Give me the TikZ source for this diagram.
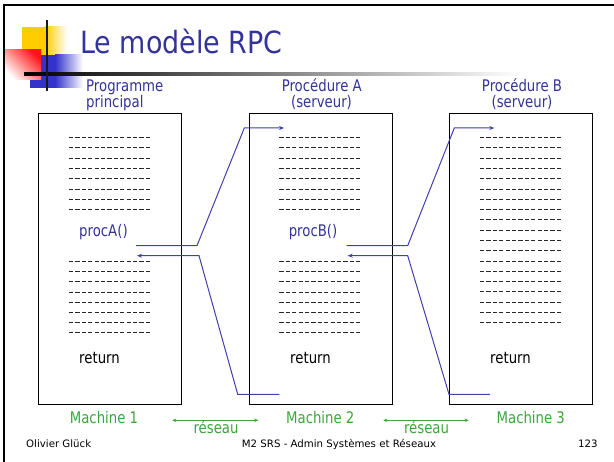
\documentclass[tikz,border=0pt]{standalone}
\usepackage{fontspec}
\setmainfont{DejaVu Sans}[FakeStretch=0.83]
\newfontfamily\titlefont{DejaVu Sans}[FakeStretch=0.88]
\newfontfamily\footfont{DejaVu Sans}
\usetikzlibrary{arrows.meta}
\definecolor{titleblue}{RGB}{51,51,153}
\definecolor{flowblue}{RGB}{64,64,176}
\definecolor{netgreen}{RGB}{60,165,60}
\definecolor{decoyellow}{RGB}{255,204,0}
\definecolor{decored}{RGB}{255,20,20}
\definecolor{decoblue}{RGB}{51,51,204}
\tikzset{
  body/.style={font=\fontsize{16}{19}\selectfont, inner sep=0pt},
  hdr/.style={body, text=titleblue},
  code/.style={body, text=black, anchor=base west},
  mach/.style={body, text=netgreen, anchor=base},
  foot/.style={font=\footfont\fontsize{10.2}{12}\selectfont, inner sep=0pt, anchor=base},
  machbox/.style={draw=black, line width=1pt, minimum width=143pt, minimum height=291.6pt, inner sep=0pt, anchor=north west},
  codeline/.style={draw=black!85, line width=1pt, dash pattern=on 4.2pt off 2.2pt},
  flow/.style={draw=flowblue, line width=1pt, -{Stealth[length=5pt,width=4pt]}},
  net/.style={draw=netgreen, line width=1pt, {Stealth[length=4pt,width=3.5pt]}-{Stealth[length=4pt,width=3.5pt]}}
}
\begin{document}
\begin{tikzpicture}[x=1pt,y=-1pt]
\useasboundingbox (0,0) rectangle (614,462);
\fill[white] (0,0) rectangle (614,462);
% slide frame
\draw[line width=2pt] (4,462) -- (4,5.5) -- (614,5.5);
% decoration
\fill[decoyellow] (22,27) rectangle (45,55);
\shade[left color=decoyellow, right color=white] (45,27) rectangle (67,55);
\fill[decoblue] (30,55) rectangle (55,88);
\shade[left color=decoblue, right color=white] (55,55) rectangle (83,88);
\shade[top color=decored, bottom color=white, shading angle=-45] (5,50) rectangle (41,80);
\shade[left color=black, middle color=black!45, right color=white] (24,72.5) rectangle (520,75.5);
\fill[black!90] (45.5,20) rectangle (48,90.7);
% title
\node[anchor=base west, font=\titlefont\fontsize{30.6}{36}\selectfont, text=titleblue, inner sep=0pt] (title) at (80,53.3) {Le modèle RPC};
% headers
\node[hdr, anchor=base west] (h1a) at (86,91.5) {Programme};
\node[hdr, anchor=base west] (h1b) at (86,107.5) {principal};
\node[hdr, anchor=base] (h2a) at (321.8,91.5) {Procédure A};
\node[hdr, anchor=base] (h2b) at (321.5,107.5) {(serveur)};
\node[hdr, anchor=base] (h3a) at (522,91.5) {Procédure B};
\node[hdr, anchor=base] (h3b) at (522,107.5) {(serveur)};
% boxes
\node[machbox] (m1) at (38.3,112.7) {};
\node[machbox] (m2) at (249.3,112.7) {};
\node[machbox] (m3) at (449.3,112.7) {};
% code lines
\foreach \k in {0,...,7} {
  \draw[codeline] (69,137.7+10.3*\k) -- (150.7,137.7+10.3*\k);
  \draw[codeline] (69,261.3+10.24*\k) -- (150.7,261.3+10.24*\k);
  \draw[codeline] (279.3,137.7+10.3*\k) -- (361,137.7+10.3*\k);
  \draw[codeline] (279.3,261.3+10.24*\k) -- (361,261.3+10.24*\k);
}
\foreach \k in {0,...,18} {
  \draw[codeline] (480,137.7+10.28*\k) -- (561.3,137.7+10.28*\k);
}
\node[code, text=titleblue] (pa) at (79,236.5) {procA()};
\node[code, text=titleblue] (pb) at (288.6,236.5) {procB()};
\node[code] (r1) at (79,364) {return};
\node[code] (r2) at (290,364) {return};
\node[code] (r3) at (490,364) {return};
% call / return connectors
\coordinate (c1s) at (136,245.7);
\coordinate (c1a) at (197,245.7);
\coordinate (c1b) at (244.3,128);
\coordinate (c1e) at (284,128);
\coordinate (r1s) at (279.3,394.3);
\coordinate (r1a) at (237.7,394.3);
\coordinate (r1b) at (199,255.7);
\coordinate (r1e) at (137,255.7);
\coordinate (c2s) at (346.7,245.7);
\coordinate (c2a) at (407.7,245.7);
\coordinate (c2b) at (454.3,128);
\coordinate (c2e) at (494.3,128);
\coordinate (r2s) at (490,394.3);
\coordinate (r2a) at (449,394.3);
\coordinate (r2b) at (407.7,255.7);
\coordinate (r2e) at (347.7,255.7);
\draw[flow] (c1s) -- (c1a) -- (c1b) -- (c1e);
\draw[flow] (r1s) -- (r1a) -- (r1b) -- (r1e);
\draw[flow] (c2s) -- (c2a) -- (c2b) -- (c2e);
\draw[flow] (r2s) -- (r2a) -- (r2b) -- (r2e);
% machines and network
\node[mach] (mt1) at (104,423.3) {Machine 1};
\node[mach] (mt2) at (320.3,423.3) {Machine 2};
\node[mach] (mt3) at (530.8,423.3) {Machine 3};
\coordinate (n1a) at (172.3,420.3);
\coordinate (n1b) at (258.3,420.3);
\coordinate (n2a) at (383.3,420.3);
\coordinate (n2b) at (468.7,420.3);
\draw[net] (n1a) -- (n1b);
\draw[net] (n2a) -- (n2b);
\node[mach] (rs1) at (216,434) {réseau};
\node[mach] (rs2) at (426.5,434) {réseau};
% footer
\node[foot, anchor=base west] (f1) at (26,448) {Olivier Glück};
\node[foot] (f2) at (339,448) {M2 SRS - Admin Systèmes et Réseaux};
\node[foot, anchor=base east] (f3) at (597.7,448) {123};
\end{tikzpicture}
\end{document}
